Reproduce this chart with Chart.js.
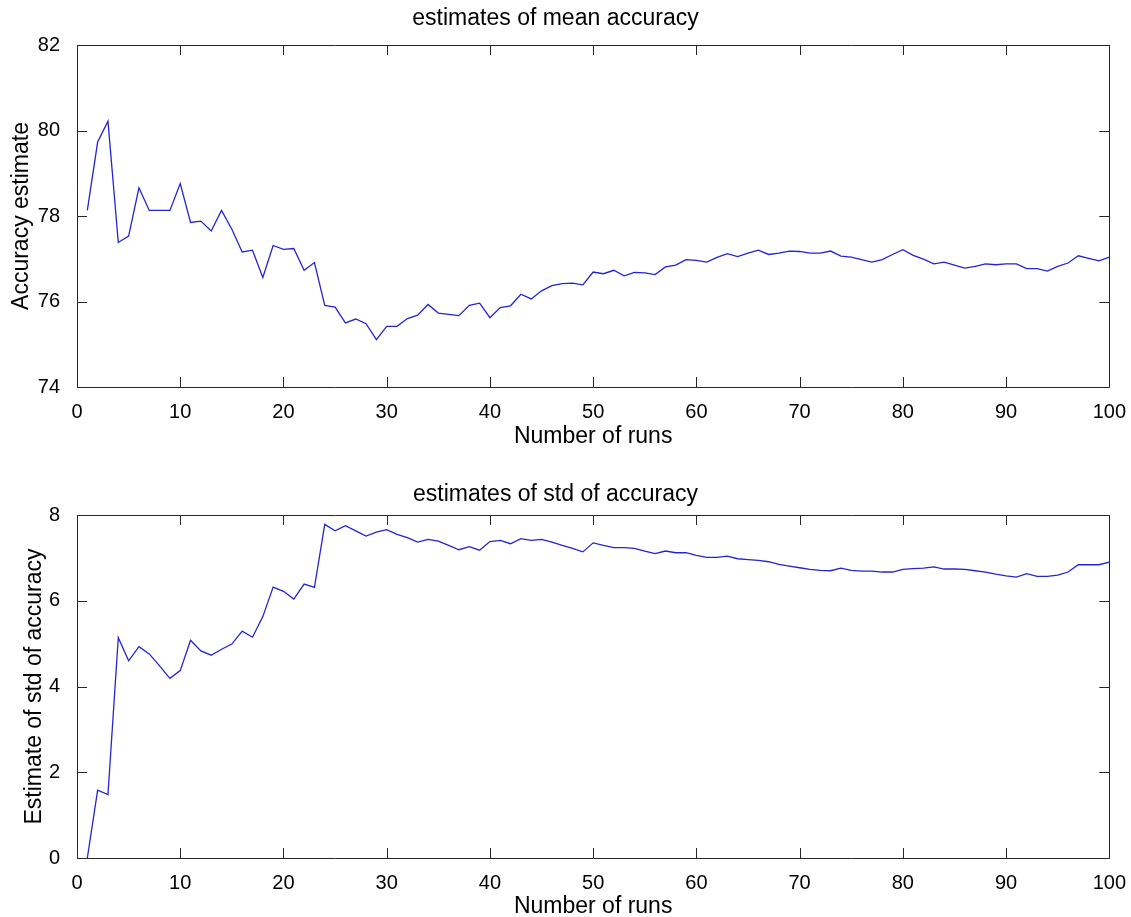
<!DOCTYPE html>
<html lang="en">
  <head>
    <meta charset="UTF-8" />
    <title>Accuracy estimates</title>
    <script src="https://cdn.jsdelivr.net/npm/chart.js"></script>
    <style>
      body { margin: 0; background: #fff; }
      .panel { position: absolute; left: 0; width: 1131px; }
      #top-panel { top: 0; height: 455px; }
      #bottom-panel { top: 455px; height: 462px; }
    </style>
  </head>
  <body>
    <div class="panel" id="top-panel"><canvas id="mean-chart"></canvas></div>
    <div class="panel" id="bottom-panel"><canvas id="std-chart"></canvas></div>

    <script>
      // run index 1..100
      const runs = Array.from({ length: 100 }, (_, i) => i + 1);

      // running estimate of mean accuracy
      const meanAccuracy = [
        78.13, 79.73, 80.22, 77.38, 77.53, 78.66, 78.13, 78.13, 78.13, 78.76,
        77.85, 77.88, 77.65, 78.13, 77.69, 77.16, 77.20, 76.56, 77.31, 77.22,
        77.24, 76.73, 76.91, 75.91, 75.87, 75.50, 75.59, 75.48, 75.11, 75.42,
        75.42, 75.60, 75.68, 75.93, 75.73, 75.70, 75.67, 75.91, 75.96, 75.62,
        75.86, 75.90, 76.17, 76.06, 76.25, 76.37, 76.42, 76.43, 76.39, 76.69,
        76.65, 76.73, 76.60, 76.68, 76.67, 76.63, 76.81, 76.85, 76.98, 76.96,
        76.92, 77.03, 77.12, 77.05, 77.13, 77.20, 77.10, 77.13, 77.18, 77.17,
        77.13, 77.13, 77.18, 77.06, 77.04, 76.98, 76.92, 76.98, 77.10, 77.21,
        77.08, 76.99, 76.88, 76.92, 76.85, 76.78, 76.82, 76.88, 76.86, 76.88,
        76.88, 76.77, 76.77, 76.71, 76.82, 76.90, 77.07, 77.01, 76.95, 77.04
      ];

      // running estimate of std of accuracy
      const stdAccuracy = [
        0.00, 1.58, 1.48, 5.14, 4.60, 4.93, 4.76, 4.48, 4.19, 4.37,
        5.08, 4.83, 4.73, 4.87, 4.99, 5.29, 5.15, 5.63, 6.32, 6.22,
        6.04, 6.39, 6.31, 7.78, 7.63, 7.75, 7.63, 7.51, 7.60, 7.66,
        7.55, 7.47, 7.37, 7.43, 7.39, 7.29, 7.19, 7.26, 7.18, 7.38,
        7.41, 7.33, 7.45, 7.41, 7.43, 7.37, 7.29, 7.22, 7.14, 7.35,
        7.29, 7.24, 7.24, 7.22, 7.16, 7.10, 7.16, 7.12, 7.12, 7.06,
        7.01, 7.01, 7.04, 6.98, 6.96, 6.94, 6.91, 6.85, 6.81, 6.77,
        6.73, 6.71, 6.70, 6.76, 6.71, 6.69, 6.69, 6.67, 6.67, 6.73,
        6.75, 6.76, 6.79, 6.74, 6.74, 6.73, 6.70, 6.67, 6.62, 6.58,
        6.55, 6.63, 6.57, 6.57, 6.60, 6.67, 6.84, 6.84, 6.84, 6.90
      ];

      const FONT = "'Liberation Sans', Arial, Helvetica, sans-serif";
      const AXIS_COLOR = "#262626";
      const LINE_COLOR = "#2424d2";

      // matlab style box with ticks pointing inwards
      const matlabAxes = {
        id: "matlabAxes",
        afterDraw(chart) {
          const { ctx, chartArea: a, scales } = chart;
          const tick = 10;
          ctx.save();
          ctx.strokeStyle = AXIS_COLOR;
          ctx.lineWidth = 1;
          ctx.beginPath();
          scales.x.ticks.forEach((t) => {
            const px = Math.round(scales.x.getPixelForValue(t.value)) + 0.5;
            ctx.moveTo(px, a.bottom);
            ctx.lineTo(px, a.bottom - tick);
            ctx.moveTo(px, a.top);
            ctx.lineTo(px, a.top + tick);
          });
          scales.y.ticks.forEach((t) => {
            const py = Math.round(scales.y.getPixelForValue(t.value)) + 0.5;
            ctx.moveTo(a.left, py);
            ctx.lineTo(a.left + tick, py);
            ctx.moveTo(a.right, py);
            ctx.lineTo(a.right - tick, py);
          });
          ctx.rect(
            Math.round(a.left) + 0.5,
            Math.round(a.top) + 0.5,
            Math.round(a.right - a.left),
            Math.round(a.bottom - a.top)
          );
          ctx.stroke();
          ctx.restore();
        },
      };

      function makeChart(id, values, cfg) {
        return new Chart(document.getElementById(id), {
          type: "line",
          data: {
            datasets: [
              {
                data: runs.map((r, i) => ({ x: r, y: values[i] })),
                borderColor: LINE_COLOR,
                borderWidth: 1.3,
                pointRadius: 0,
                tension: 0,
                fill: false,
              },
            ],
          },
          options: {
            responsive: true,
            maintainAspectRatio: false,
            animation: false,
            layout: { padding: { left: 0, right: 20, top: 0, bottom: 0 } },
            plugins: {
              legend: { display: false },
              tooltip: { enabled: false },
              title: {
                display: true,
                text: cfg.title,
                color: "#000",
                font: { family: FONT, size: 23, weight: "normal", lineHeight: 1.2 },
                padding: cfg.titlePad,
              },
            },
            scales: {
              x: {
                type: "linear",
                min: 0,
                max: 100,
                grid: { display: false },
                border: { display: false },
                ticks: {
                  stepSize: 10,
                  color: "#000",
                  padding: 5,
                  maxRotation: 0,
                  font: { family: FONT, size: 20 },
                },
                title: {
                  display: true,
                  text: "Number of runs",
                  color: "#000",
                  font: { family: FONT, size: 23, lineHeight: 1 },
                  padding: { top: 0, bottom: cfg.xTitleBottom },
                },
                afterFit: (scale) => { scale.height = cfg.xAxisHeight; },
              },
              y: {
                min: cfg.yMin,
                max: cfg.yMax,
                grid: { display: false },
                border: { display: false },
                ticks: {
                  stepSize: 2,
                  color: "#000",
                  padding: 9,
                  font: { family: FONT, size: 20 },
                },
                title: {
                  display: true,
                  text: cfg.yTitle,
                  color: "#000",
                  font: { family: FONT, size: 23, lineHeight: 1 },
                  padding: { top: cfg.yTitleTop, bottom: 0 },
                },
                afterFit: (scale) => { scale.width = 77; },
              },
            },
          },
          plugins: [matlabAxes],
        });
      }

      makeChart("mean-chart", meanAccuracy, {
        title: "estimates of mean accuracy",
        titlePad: { top: 5, bottom: 12.4 },
        yTitle: "Accuracy estimate",
        yTitleTop: 10.5,
        yMin: 74,
        yMax: 82,
        xAxisHeight: 68,
        xTitleBottom: 6.5,
      });

      makeChart("std-chart", stdAccuracy, {
        title: "estimates of std of accuracy",
        titlePad: { top: 25.7, bottom: 6.7 },
        yTitle: "Estimate of std of accuracy",
        yTitleTop: 23.5,
        yMin: 0,
        yMax: 8,
        xAxisHeight: 59,
        xTitleBottom: -1,
      });
    </script>
  </body>
</html>
